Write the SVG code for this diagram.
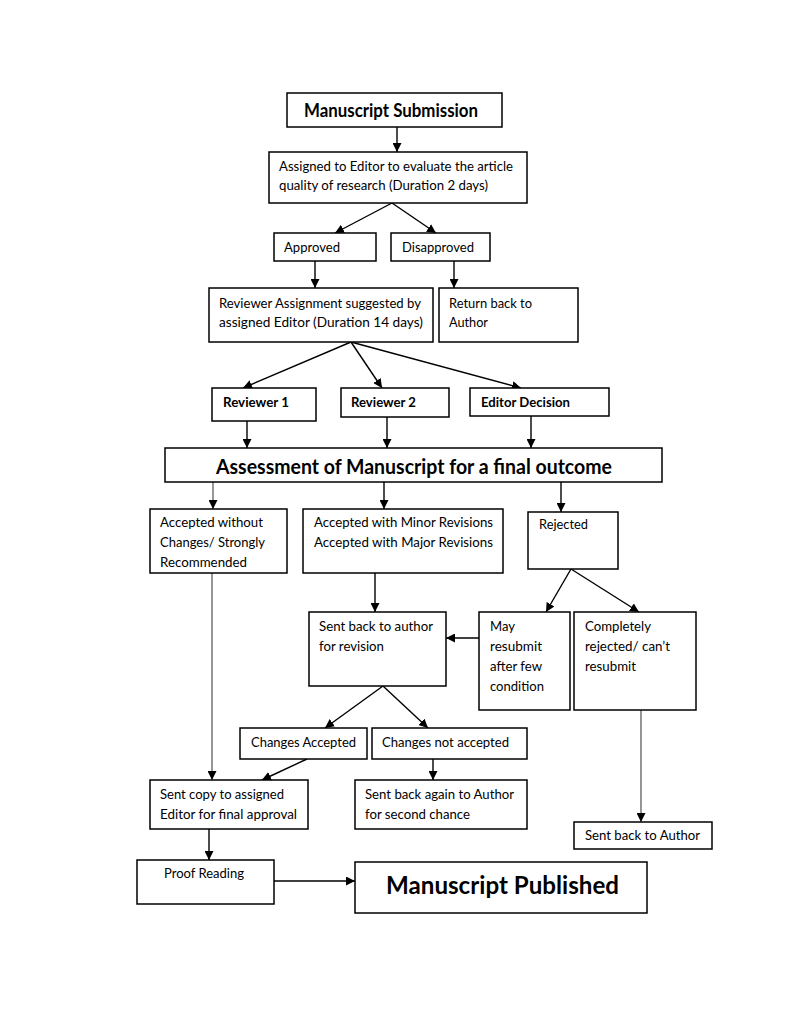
<svg xmlns="http://www.w3.org/2000/svg" width="791" height="1024" viewBox="0 0 791 1024">
<style>
.box{fill:#fff;stroke:#000;stroke-width:1.5}
.t{font-family:Lato,"Liberation Sans",sans-serif;font-size:14px;fill:#000}
.b{font-family:Lato,"Liberation Sans",sans-serif;font-weight:bold;fill:#000}
.c line{stroke:#000;stroke-width:1.4;marker-end:url(#ah)}
.c line.g{stroke:#6a6a6a}
</style>
<defs>
<marker id="ah" markerUnits="userSpaceOnUse" markerWidth="9" markerHeight="9" refX="9" refY="4.5" orient="auto">
<path d="M0,0 L9,4.5 L0,9 z" fill="#000"/>
</marker>
</defs>
<rect width="791" height="1024" fill="#fff"/>
<g class="c" id="connectors">
<line x1="397" y1="127" x2="397" y2="152"/>
<line x1="392" y1="203" x2="335" y2="233"/>
<line x1="392" y1="203" x2="436" y2="233"/>
<line x1="315" y1="261" x2="315" y2="288"/>
<line x1="454" y1="261" x2="454" y2="288"/>
<line x1="351" y1="342" x2="243" y2="388"/>
<line x1="351" y1="342" x2="382" y2="388"/>
<line x1="351" y1="342" x2="521" y2="388"/>
<line x1="247" y1="421" x2="247" y2="448"/>
<line x1="387" y1="417" x2="387" y2="448"/>
<line x1="531" y1="416" x2="531" y2="448"/>
<line class="g" x1="213" y1="482" x2="213" y2="509"/>
<line x1="384" y1="482" x2="384" y2="509"/>
<line x1="561" y1="482" x2="561" y2="512"/>
<line class="g" x1="212" y1="573" x2="212" y2="780"/>
<line x1="375" y1="573" x2="375" y2="612"/>
<line x1="571" y1="569" x2="546" y2="612"/>
<line x1="571" y1="569" x2="639" y2="612"/>
<line x1="479" y1="638" x2="446" y2="638"/>
<line x1="383" y1="686" x2="325" y2="728"/>
<line x1="383" y1="686" x2="428" y2="728"/>
<line x1="307" y1="759" x2="262" y2="780"/>
<line x1="433" y1="759" x2="433" y2="780"/>
<line class="g" x1="641" y1="710" x2="641" y2="822"/>
<line x1="209" y1="829" x2="209" y2="860"/>
<line x1="274" y1="881" x2="355" y2="881"/>
</g>
<g id="n-submission"><rect class="box" x="287" y="93" width="215" height="34"/><text class="b" x="304" y="117" font-size="18" textLength="174" lengthAdjust="spacingAndGlyphs">Manuscript Submission</text></g>
<g id="n-editor"><rect class="box" x="269" y="152" width="258" height="51"/><text class="t" x="279" y="171" textLength="234" lengthAdjust="spacingAndGlyphs">Assigned to Editor to evaluate the article</text><text class="t" x="279" y="190" textLength="209" lengthAdjust="spacingAndGlyphs">quality of research (Duration 2 days)</text></g>
<g id="n-approved"><rect class="box" x="274" y="233" width="102" height="28"/><text class="t" x="284" y="252" textLength="56" lengthAdjust="spacingAndGlyphs">Approved</text></g>
<g id="n-disapproved"><rect class="box" x="391" y="233" width="99" height="28"/><text class="t" x="402" y="252" textLength="72" lengthAdjust="spacingAndGlyphs">Disapproved</text></g>
<g id="n-revassign"><rect class="box" x="209" y="288" width="224" height="54"/><text class="t" x="219" y="308" textLength="202" lengthAdjust="spacingAndGlyphs">Reviewer Assignment suggested by</text><text class="t" x="219" y="327" textLength="204" lengthAdjust="spacingAndGlyphs">assigned Editor (Duration 14 days)</text></g>
<g id="n-return"><rect class="box" x="439" y="288" width="139" height="54"/><text class="t" x="449" y="308" textLength="83" lengthAdjust="spacingAndGlyphs">Return back to</text><text class="t" x="449" y="327" textLength="39" lengthAdjust="spacingAndGlyphs">Author</text></g>
<g id="n-rev1"><rect class="box" x="212" y="388" width="104" height="33"/><text class="b" x="223" y="407" font-size="14" textLength="66" lengthAdjust="spacingAndGlyphs">Reviewer 1</text></g>
<g id="n-rev2"><rect class="box" x="341" y="388" width="108" height="29"/><text class="b" x="351" y="407" font-size="14" textLength="65" lengthAdjust="spacingAndGlyphs">Reviewer 2</text></g>
<g id="n-eddecision"><rect class="box" x="470" y="388" width="139" height="28"/><text class="b" x="481" y="407" font-size="14" textLength="89" lengthAdjust="spacingAndGlyphs">Editor Decision</text></g>
<g id="n-assessment"><rect class="box" x="165" y="448" width="497" height="34"/><text class="b" x="216" y="474" font-size="20" textLength="396" lengthAdjust="spacingAndGlyphs">Assessment of Manuscript for a final outcome</text></g>
<g id="n-accwithout"><rect class="box" x="150" y="509" width="137" height="64"/><text class="t" x="160" y="527" textLength="103" lengthAdjust="spacingAndGlyphs">Accepted without</text><text class="t" x="160" y="547" textLength="105" lengthAdjust="spacingAndGlyphs">Changes/ Strongly</text><text class="t" x="160" y="567" textLength="87" lengthAdjust="spacingAndGlyphs">Recommended</text></g>
<g id="n-accminor"><rect class="box" x="303" y="509" width="200" height="64"/><text class="t" x="314" y="527" textLength="179" lengthAdjust="spacingAndGlyphs">Accepted with Minor Revisions</text><text class="t" x="314" y="547" textLength="179" lengthAdjust="spacingAndGlyphs">Accepted with Major Revisions</text></g>
<g id="n-rejected"><rect class="box" x="528" y="512" width="90" height="57"/><text class="t" x="539" y="529" textLength="49" lengthAdjust="spacingAndGlyphs">Rejected</text></g>
<g id="n-sentback"><rect class="box" x="309" y="612" width="137" height="74"/><text class="t" x="319" y="631" textLength="114" lengthAdjust="spacingAndGlyphs">Sent back to author</text><text class="t" x="319" y="651" textLength="65" lengthAdjust="spacingAndGlyphs">for revision</text></g>
<g id="n-mayresubmit"><rect class="box" x="479" y="612" width="91" height="98"/><text class="t" x="490" y="631" textLength="25" lengthAdjust="spacingAndGlyphs">May</text><text class="t" x="490" y="651" textLength="52" lengthAdjust="spacingAndGlyphs">resubmit</text><text class="t" x="490" y="671" textLength="52" lengthAdjust="spacingAndGlyphs">after few</text><text class="t" x="490" y="691" textLength="54" lengthAdjust="spacingAndGlyphs">condition</text></g>
<g id="n-completely"><rect class="box" x="574" y="612" width="122" height="98"/><text class="t" x="585" y="631" textLength="66" lengthAdjust="spacingAndGlyphs">Completely</text><text class="t" x="585" y="651" textLength="85" lengthAdjust="spacingAndGlyphs">rejected/ can’t</text><text class="t" x="585" y="671" textLength="51" lengthAdjust="spacingAndGlyphs">resubmit</text></g>
<g id="n-chacc"><rect class="box" x="240" y="728" width="127" height="31"/><text class="t" x="251" y="747" textLength="105" lengthAdjust="spacingAndGlyphs">Changes Accepted</text></g>
<g id="n-chnot"><rect class="box" x="372" y="728" width="155" height="31"/><text class="t" x="382" y="747" textLength="127" lengthAdjust="spacingAndGlyphs">Changes not accepted</text></g>
<g id="n-sentcopy"><rect class="box" x="150" y="780" width="158" height="49"/><text class="t" x="160" y="799" textLength="124" lengthAdjust="spacingAndGlyphs">Sent copy to assigned</text><text class="t" x="160" y="819" textLength="137" lengthAdjust="spacingAndGlyphs">Editor for final approval</text></g>
<g id="n-sentagain"><rect class="box" x="355" y="780" width="172" height="49"/><text class="t" x="365" y="799" textLength="149" lengthAdjust="spacingAndGlyphs">Sent back again to Author</text><text class="t" x="365" y="819" textLength="105" lengthAdjust="spacingAndGlyphs">for second chance</text></g>
<g id="n-sentauthor"><rect class="box" x="574" y="822" width="138" height="27"/><text class="t" x="585" y="840" textLength="115" lengthAdjust="spacingAndGlyphs">Sent back to Author</text></g>
<g id="n-proof"><rect class="box" x="137" y="860" width="137" height="44"/><text class="t" x="164" y="878" textLength="80" lengthAdjust="spacingAndGlyphs">Proof Reading</text></g>
<g id="n-published"><rect class="box" x="355" y="862" width="292" height="51"/><text class="b" x="386" y="894" font-size="24" textLength="233" lengthAdjust="spacingAndGlyphs">Manuscript Published</text></g>
</svg>
